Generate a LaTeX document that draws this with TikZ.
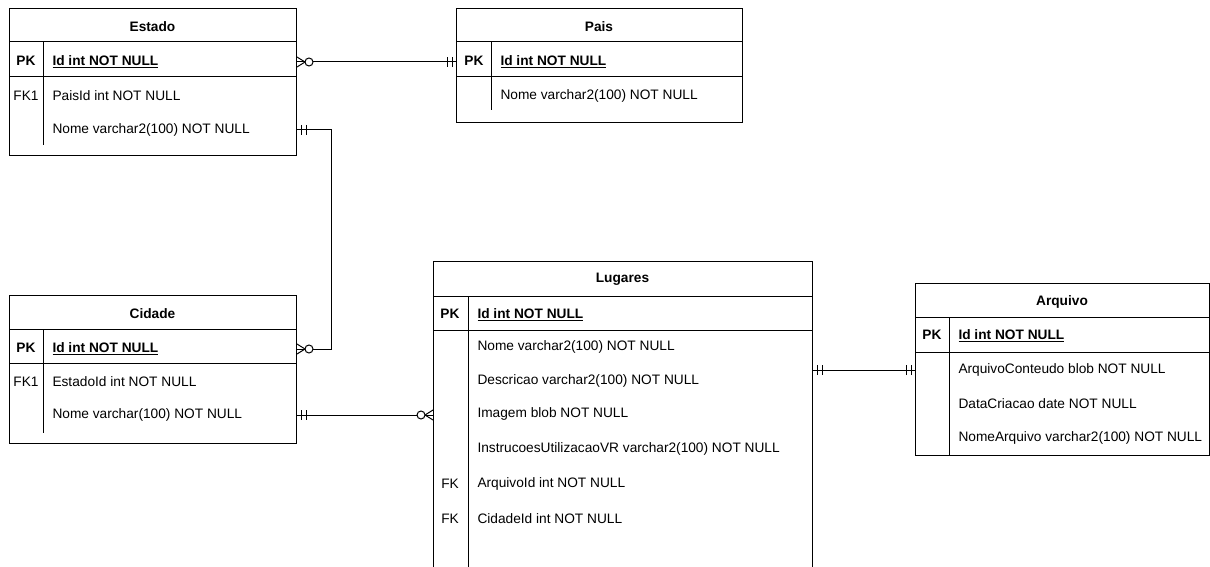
\documentclass[tikz,border=0pt]{standalone}
\usepackage{fontspec}
\setmainfont{Liberation Sans}
\def\largeur{1210}
\def\hauteur{567}

\tikzset{
  mandone/.pic={\draw (4,-5) -- (4,5) (9,-5) -- (9,5);},
  zeromany/.pic={\draw (0,-5) -- (8,0) -- (0,5); \draw[fill=white] (12,0) circle[radius=4pt];}
}

\begin{document}
\begin{tikzpicture}[x=1pt, y=-1pt, line width=1pt,
    every node/.style={inner sep=0pt, font=\fontsize{13.7}{16}\selectfont},
    tbl/.style={draw, anchor=north west},
    ttl/.style={yshift=-1.5pt, font=\fontsize{13.7}{16}\selectfont\bfseries},
    keyc/.style={yshift=-1pt},
    pkc/.style={yshift=-1pt, font=\fontsize{13.7}{16}\selectfont\bfseries},
    attr/.style={anchor=west, yshift=-1pt}]
    \useasboundingbox (0,0) rectangle (\largeur,\hauteur);

% Estado
    \node[tbl, minimum width=287pt, minimum height=147pt] (estado) at (9,8) {};
    \draw (9,42) -- (296,42) (9,77) -- (296,77) (43,42) -- (43,145);
    \node[ttl] (estado-t) at (152.5,25) {Estado};
    \node[pkc] (estado-pk) at (26,60) {PK};
    \node[attr, pkc] (estado-id) at (52,60) {\underline{Id int NOT NULL}};
    \node[keyc] (estado-fk) at (26,95) {FK1};
    \node[attr] (estado-pais) at (52,95) {PaisId int NOT NULL};
    \node[attr] (estado-nome) at (52,129) {Nome varchar2(100) NOT NULL};

% Pais
    \node[tbl, minimum width=286pt, minimum height=114pt] (pais) at (456,8) {};
    \draw (456,42) -- (742,42) (456,77) -- (742,77) (491,42) -- (491,110);
    \node[ttl] (pais-t) at (599,25) {Pais};
    \node[pkc] (pais-pk) at (474,60) {PK};
    \node[attr, pkc] (pais-id) at (500,60) {\underline{Id int NOT NULL}};
    \node[attr] (pais-nome) at (500,95) {Nome varchar2(100) NOT NULL};

% Cidade
    \node[tbl, minimum width=287pt, minimum height=148pt] (cidade) at (9,295) {};
    \draw (9,329) -- (296,329) (9,363) -- (296,363) (43,329) -- (43,433);
    \node[ttl] (cidade-t) at (152.5,312) {Cidade};
    \node[pkc] (cidade-pk) at (26,347) {PK};
    \node[attr, pkc] (cidade-id) at (52,347) {\underline{Id int NOT NULL}};
    \node[keyc] (cidade-fk) at (26,381) {FK1};
    \node[attr] (cidade-estado) at (52,381) {EstadoId int NOT NULL};
    \node[attr] (cidade-nome) at (52,414) {Nome varchar(100) NOT NULL};

% Lugares (runs off the bottom)
    \node[tbl, minimum width=379pt, minimum height=330pt] (lugares) at (433,261) {};
    \draw (433,296) -- (812,296) (433,330) -- (812,330) (468,296) -- (468,591);
    \node[ttl] (lugares-t) at (622.5,278) {Lugares};
    \node[pkc] (lugares-pk) at (450,313) {PK};
    \node[attr, pkc] (lugares-id) at (477,313) {\underline{Id int NOT NULL}};
    \node[attr] (lugares-nome) at (477,346) {Nome varchar2(100) NOT NULL};
    \node[attr] (lugares-desc) at (477,380) {Descricao varchar2(100) NOT NULL};
    \node[attr] (lugares-img) at (477,413) {Imagem blob NOT NULL};
    \node[attr] (lugares-instr) at (477,448) {InstrucoesUtilizacaoVR varchar2(100) NOT NULL};
    \node[keyc] (lugares-fk1) at (450,483) {FK};
    \node[attr] (lugares-arq) at (477,483) {ArquivoId int NOT NULL};
    \node[keyc] (lugares-fk2) at (450,518) {FK};
    \node[attr] (lugares-cid) at (477,518) {CidadeId int NOT NULL};

% Arquivo
    \node[tbl, minimum width=294pt, minimum height=172pt] (arquivo) at (915,283) {};
    \draw (915,317) -- (1209,317) (915,352) -- (1209,352) (949,317) -- (949,455);
    \node[ttl] (arquivo-t) at (1062,300) {Arquivo};
    \node[pkc] (arquivo-pk) at (932,334) {PK};
    \node[attr, pkc] (arquivo-id) at (958,334) {\underline{Id int NOT NULL}};
    \node[attr] (arquivo-cont) at (958,369) {ArquivoConteudo blob NOT NULL};
    \node[attr] (arquivo-data) at (958,403) {DataCriacao date NOT NULL};
    \node[attr] (arquivo-nome) at (958,437) {NomeArquivo varchar2(100) NOT NULL};

% relacionamentos
    \draw (estado.east |- estado-id) -- (pais.west |- pais-id);
    \pic at (estado.east |- estado-id) {zeromany};
    \pic[rotate=180] at (pais.west |- pais-id) {mandone};

    \draw (estado.east |- estado-nome) -- ++(34,0) |- (cidade.east |- cidade-id);
    \pic at (estado.east |- estado-nome) {mandone};
    \pic at (cidade.east |- cidade-id) {zeromany};

    \draw (cidade.east |- cidade-nome) -- (lugares.west |- cidade-nome);
    \pic at (cidade.east |- cidade-nome) {mandone};
    \pic[rotate=180] at (lugares.west |- cidade-nome) {zeromany};

    \draw (lugares.east |- arquivo-cont) -- (arquivo.west |- arquivo-cont);
    \pic at (lugares.east |- arquivo-cont) {mandone};
    \pic[rotate=180] at (arquivo.west |- arquivo-cont) {mandone};
\end{tikzpicture}
\end{document}
